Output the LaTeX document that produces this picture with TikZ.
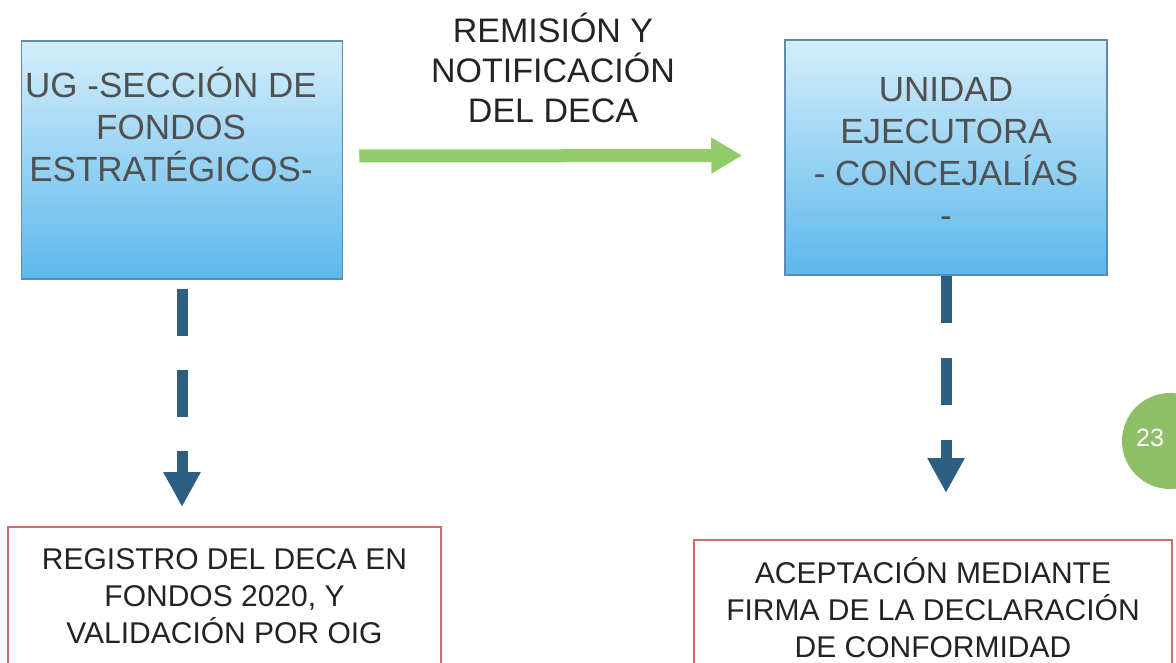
\documentclass[tikz,border=0pt]{standalone}
\usepackage{fontspec}
\setmainfont{Liberation Sans}
\usetikzlibrary{arrows.meta,positioning}
\definecolor{azulclaro}{RGB}{212,238,251}
\definecolor{azulfuerte}{RGB}{92,184,236}
\definecolor{bordeazul}{RGB}{95,140,180}
\definecolor{bordero}{RGB}{205,110,110}
\definecolor{verdeflecha}{RGB}{145,204,105}
\definecolor{azulflecha}{RGB}{45,95,130}
\definecolor{verdepag}{RGB}{143,190,105}
\definecolor{grisletra}{RGB}{80,80,80}
\definecolor{negroletra}{RGB}{35,35,35}

\tikzset{
  cajaunidad/.style={draw=bordeazul,line width=1.5pt,top color=azulclaro,bottom color=azulfuerte,inner sep=0pt},
  textounidad/.style={text=grisletra,align=center,inner sep=0pt,font=\fontsize{35}{42}\selectfont},
  cajatramite/.style={draw=bordero,line width=2pt,fill=white,align=center,inner sep=0pt,
    text=negroletra,font=\fontsize{30}{37}\selectfont},
  flecharemision/.style={draw=verdeflecha,line width=13pt,-{Triangle[width=34pt,length=31pt]}},
  flechabaja/.style={draw=azulflecha,line width=11pt,-{Triangle[width=35pt,length=35pt]}}
}

\begin{document}
\begin{tikzpicture}[x=1pt,y=-1pt]
     \useasboundingbox (0,0) rectangle (1176,663);
     \clip (0,0) rectangle (1176,663);
     % cajas de las unidades
     \node[cajaunidad,minimum width=321pt,minimum height=238pt] (ugbox) at (182,160) {};
     \node[cajaunidad,minimum width=322pt,minimum height=235pt] (uebox) at (946,157.5) {};
     \node[textounidad,below=27pt of ugbox.north,xshift=-11pt] (ugtexto) {UG -SECCIÓN DE\\FONDOS\\ESTRATÉGICOS-};
     \node[textounidad,below=38pt of uebox.north] (uetexto) {UNIDAD\\EJECUTORA\\- CONCEJALÍAS\\-};
     % cajas de tramite
     \node[cajatramite,minimum width=433pt,minimum height=138pt] (regbox) at (224.5,596)
          {REGISTRO DEL DECA EN\\FONDOS 2020, Y\\VALIDACIÓN POR OIG};
     \node[cajatramite,minimum width=478pt,minimum height=136pt] (acepbox) at (933,608)
          {ACEPTACIÓN MEDIANTE\\FIRMA DE LA DECLARACIÓN\\DE CONFORMIDAD};
     % remision
     \node[text=negroletra,align=center,inner sep=0pt,font=\fontsize{34}{40}\selectfont]
          (remision) at (553,68) {REMISIÓN Y\\NOTIFICACIÓN\\DEL DECA};
     \draw[flecharemision,shorten <=16pt,shorten >=42pt] ([yshift=4pt]ugbox.east) -- ([yshift=2pt]uebox.west);
     % flechas discontinuas
     \draw[flechabaja,dash pattern=on 47pt off 34pt,shorten <=9pt,shorten >=19pt]
          (ugbox.south) -- (ugbox.south |- regbox.north);
     \draw[flechabaja,dash pattern=on 47pt off 35pt,shorten >=46pt]
          (uebox.south) -- (uebox.south |- acepbox.north);
     % numero de pagina
     \node[circle,fill=verdepag,minimum size=96pt] (pagina) at (1170,441) {};
     \node[text=white,font=\fontsize{25}{25}\selectfont] (numero) at ([xshift=-20pt,yshift=3pt]pagina.center) {23};
\end{tikzpicture}
\end{document}
